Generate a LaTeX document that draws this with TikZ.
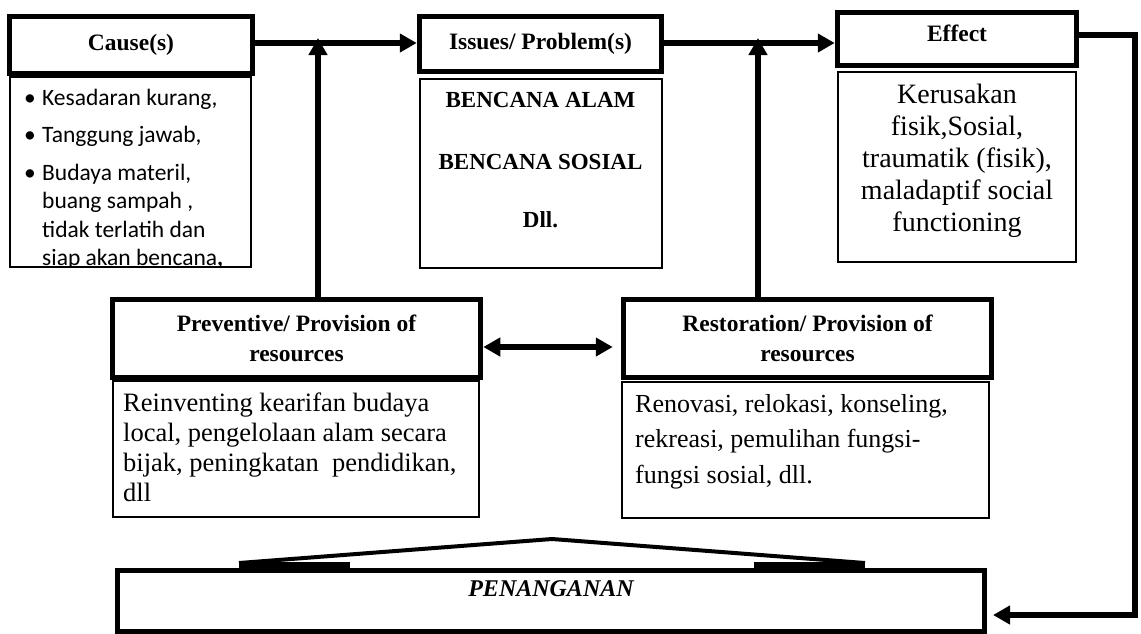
\documentclass[tikz,border=0pt]{standalone}
\usepackage{fontspec}
\setmainfont{Liberation Serif}
\newfontfamily\calibri{Carlito}
\usetikzlibrary{arrows.meta}

\newcommand{\causeitem}[1]{\par\hangindent=18pt\hangafter=1\noindent\makebox[18pt][l]{\textbullet}#1}

\begin{document}
\begin{tikzpicture}[x=1pt,y=-1pt]
    \tikzstyle{head}=[draw,rectangle,line width=5.5pt,inner sep=0pt,align=center,font=\fontsize{23.5}{30}\selectfont\bfseries];
    \tikzstyle{body}=[draw,rectangle,line width=1.6pt,inner sep=0pt];
    \tikzstyle{txt}=[inner sep=0pt,anchor=base west];
    \tikzstyle{ctxt}=[inner sep=0pt,anchor=base];
    \tikzstyle{arr}=[line width=5.5pt,-{Triangle[length=17pt,width=18pt]}];
    \tikzstyle{dblarr}=[line width=5.5pt,{Triangle[length=17pt,width=18pt]}-{Triangle[length=17pt,width=18pt]}];
    \useasboundingbox (0,0) rectangle (1141,633);

    % headers
    \node at (131,45)     (causehead) [head,minimum width=243pt,minimum height=57pt] {Cause(s)};
    \node at (540.5,44)   (issuehead) [head,minimum width=242pt,minimum height=55pt] {Issues/ Problem(s)};
    \node at (957,39)     (effhead)   [head,minimum width=239pt,minimum height=53pt,text height=16pt,text depth=12pt] {Effect};
    \node at (296.5,338.5) (prevhead) [head,minimum width=368pt,minimum height=78pt] {Preventive/ Provision of\\ resources};
    \node at (807.5,338.5) (resthead) [head,minimum width=368pt,minimum height=78pt] {Restoration/ Provision of\\ resources};

    % bodies
    \node at (130.5,172)  (causebody) [body,minimum width=241pt,minimum height=190pt] {};
    \node at (541,173.5)  (issuebody) [body,minimum width=242pt,minimum height=189pt] {};
    \node at (957,167)    (effbody)   [body,minimum width=238pt,minimum height=190pt] {};
    \node at (296,449)    (prevbody)  [body,minimum width=366pt,minimum height=136pt] {};
    \node at (805.5,450)  (restbody)  [body,minimum width=367pt,minimum height=136pt] {};

    \begin{scope}
      \clip (causebody.north west) rectangle (causebody.south east);
      \node at (24,105) (causetext) [txt,font=\calibri] {\parbox[t]{220pt}{\fontsize{23.5}{28.5}\selectfont\setlength{\parskip}{9pt}%
        \causeitem{Kesadaran kurang,}
        \causeitem{Tanggung jawab,}
        \causeitem{Budaya materil,\\ buang sampah ,\\ tidak terlatih dan\\ siap akan bencana{\bfseries,}}}};
    \end{scope}
    \node at (540.5,92) (issuetext) [inner sep=0pt,anchor=north,align=center,font=\fontsize{23}{62}\selectfont\bfseries] {BENCANA ALAM\\ BENCANA SOSIAL\\[-4pt] Dll.};
    \node at (957,103)   (efftext)   [ctxt] {\parbox[t]{234pt}{\centering\fontsize{28}{32}\selectfont Kerusakan\\ fisik,Sosial,\\ traumatik (fisik),\\ maladaptif social\\ functioning}};
    \node at (123,411)   (prevtext)  [txt] {\parbox[t]{355pt}{\fontsize{26.5}{30}\selectfont Reinventing kearifan budaya\\ local, pengelolaan alam secara\\ bijak, peningkatan\ \ pendidikan,\\ dll}};
    \node at (635,412)   (resttext)  [txt] {\parbox[t]{350pt}{\fontsize{26}{35.5}\selectfont Renovasi, relokasi, konseling,\\ rekreasi, pemulihan fungsi-\\ fungsi sosial, dll.}};

    % bottom box
    \node at (551,601) (penang) [draw,rectangle,line width=5pt,inner sep=0pt,minimum width=867pt,minimum height=61pt,
      font=\fontsize{24}{28}\selectfont\bfseries\itshape,text height=17pt,text depth=26pt] {PENANGANAN};
    \coordinate (apex) at (552,539);
    \draw[line width=4pt] (239,563) -- (apex) -- (865,563);
    \draw[line width=8pt] (239,566) -- (350,566);
    \draw[line width=8pt] (754,566) -- (865,566);

    % connectors
    \coordinate (top) at (0,43);
    \coordinate (j1)  at (318,38);
    \coordinate (j2)  at (758,38);
    \coordinate (mid) at (0,347);
    \coordinate (e1)  at (1135,35);
    \coordinate (e2)  at (1135,615);
    \draw[arr] (causehead.east |- top) -- (issuehead.west |- top);
    \draw[arr] (issuehead.east |- top) -- (effhead.west |- top);
    \draw[arr] (prevhead.north -| j1) -- (j1);
    \draw[arr] (resthead.north -| j2) -- (j2);
    \draw[dblarr,shorten >=8pt] (prevhead.east |- mid) -- (resthead.west |- mid);
    \draw[arr,shorten >=6pt] (effhead.east |- e1) -- (e1) -- (e2) -- (penang.east |- e2);
\end{tikzpicture}
\end{document}
